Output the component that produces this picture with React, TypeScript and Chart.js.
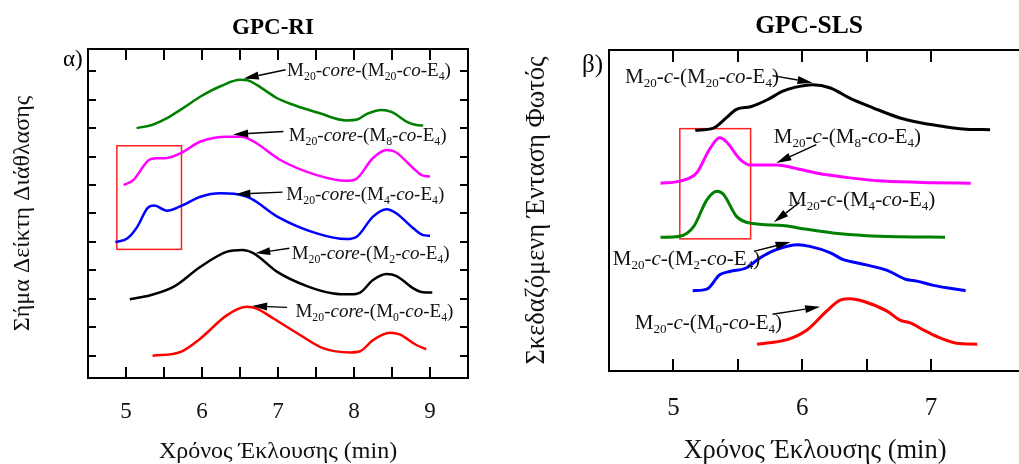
import React, { useEffect, useRef } from "react";
import { Chart, registerables } from "chart.js";

Chart.register(...registerables);

const FONT = '"Liberation Serif", "DejaVu Serif", "Times New Roman", serif';

type Pt = [number, number];

// ---------- GPC-RI panel (elution time, offset RI signal) ----------
const riM20: Pt[] = [[5.14, 8.0], [5.35, 8.12], [5.54, 8.35], [5.76, 8.72], [5.98, 9.11], [6.25, 9.48], [6.5, 9.7], [6.6, 9.68], [6.72, 9.52], [6.99, 9.05], [7.2, 8.82], [7.55, 8.52], [7.9, 8.27], [8.04, 8.3], [8.17, 8.5], [8.36, 8.64], [8.5, 8.56], [8.69, 8.23], [8.82, 8.11], [8.91, 8.09]];
const riM8: Pt[] = [[4.97, 6.0], [5.1, 6.18], [5.2, 6.55], [5.3, 6.88], [5.41, 6.94], [5.54, 6.95], [5.72, 7.12], [5.98, 7.53], [6.33, 7.7], [6.52, 7.7], [6.68, 7.53], [7.03, 6.88], [7.51, 6.35], [7.9, 6.15], [8.02, 6.2], [8.25, 6.95], [8.43, 7.23], [8.54, 7.17], [8.78, 6.59], [8.89, 6.35], [9.0, 6.3]];
const riM4: Pt[] = [[4.86, 3.99], [5.02, 4.13], [5.15, 4.54], [5.28, 5.18], [5.37, 5.28], [5.54, 5.1], [5.72, 5.26], [5.98, 5.59], [6.24, 5.71], [6.42, 5.69], [6.64, 5.53], [6.99, 4.89], [7.51, 4.3], [7.9, 4.1], [8.04, 4.19], [8.25, 4.89], [8.43, 5.15], [8.56, 5.0], [8.78, 4.48], [8.91, 4.24], [9.0, 4.22]];
const riM2: Pt[] = [[5.05, 1.99], [5.32, 2.13], [5.63, 2.43], [5.98, 3.13], [6.33, 3.66], [6.53, 3.72], [6.68, 3.6], [6.99, 2.95], [7.38, 2.45], [7.73, 2.19], [7.95, 2.16], [8.08, 2.22], [8.25, 2.66], [8.43, 2.87], [8.56, 2.8], [8.78, 2.37], [8.91, 2.23], [9.03, 2.22]];
const riM0: Pt[] = [[5.35, 0.0], [5.72, 0.14], [5.98, 0.61], [6.33, 1.43], [6.59, 1.72], [6.72, 1.66], [6.94, 1.31], [7.29, 0.73], [7.6, 0.26], [7.95, 0.12], [8.08, 0.16], [8.25, 0.55], [8.47, 0.81], [8.6, 0.75], [8.82, 0.38], [8.95, 0.23]];

// ---------- GPC-SLS panel (elution time, offset LS intensity) ----------
const slsM20: Pt[] = [[5.17, 4.0], [5.31, 4.04], [5.41, 4.23], [5.49, 4.39], [5.6, 4.44], [5.73, 4.57], [5.85, 4.73], [5.98, 4.82], [6.08, 4.85], [6.22, 4.79], [6.37, 4.6], [6.55, 4.42], [6.76, 4.23], [6.92, 4.14], [7.1, 4.07], [7.28, 4.02], [7.46, 4.01]];
const slsM8: Pt[] = [[4.9, 3.01], [5.05, 3.05], [5.18, 3.2], [5.28, 3.64], [5.36, 3.86], [5.41, 3.79], [5.52, 3.45], [5.6, 3.35], [5.8, 3.35], [5.91, 3.31], [6.11, 3.2], [6.37, 3.11], [6.63, 3.05], [7.02, 3.02], [7.31, 3.01]];
const slsM4: Pt[] = [[4.9, 2.0], [5.05, 2.02], [5.16, 2.21], [5.26, 2.7], [5.34, 2.86], [5.39, 2.8], [5.49, 2.39], [5.6, 2.26], [5.85, 2.22], [5.98, 2.17], [6.24, 2.08], [6.5, 2.03], [6.76, 2.01], [7.11, 2.0]];
const slsM2: Pt[] = [[5.15, 1.0], [5.26, 1.03], [5.36, 1.3], [5.44, 1.36], [5.57, 1.43], [5.67, 1.61], [5.8, 1.77], [5.97, 1.86], [6.06, 1.83], [6.22, 1.71], [6.32, 1.58], [6.45, 1.51], [6.66, 1.38], [6.81, 1.21], [6.89, 1.18], [7.02, 1.1], [7.27, 1.0]];
const slsM0: Pt[] = [[5.65, 0.0], [5.89, 0.09], [6.04, 0.27], [6.19, 0.62], [6.3, 0.83], [6.37, 0.85], [6.48, 0.8], [6.66, 0.62], [6.76, 0.45], [6.84, 0.4], [6.94, 0.27], [7.05, 0.14], [7.2, 0.02], [7.36, 0.0]];

// arm-composition subscripts for the labels
const armSubs = ["20", "8", "4", "2", "0"];

// tick labels
const riTickLabels = ["5", "6", "7", "8", "9"];
const slsTickLabels = ["5", "6", "7"];

// annotation anchors (data coordinates)
const riLabelAt: Pt[] = [[7.12, 10.05], [7.14, 7.76], [7.11, 5.69], [7.18, 3.61], [7.23, 1.57]];
const riArrowFrom: Pt[] = [[7.1, 10.05], [7.07, 7.88], [7.06, 5.75], [7.15, 3.78], [7.12, 1.7]];
const riArrowTo: Pt[] = [[6.55, 9.74], [6.41, 7.78], [6.44, 5.68], [6.7, 3.6], [6.66, 1.75]];
const riBox: Pt[] = [[4.88, 7.38], [5.73, 3.74]];

const slsLabelAt: Pt[] = [[4.625, 5.01], [5.78, 3.89], [5.89, 2.72], [4.53, 1.62], [4.7, 0.42]];
const slsArrowFrom: Pt[] = [[5.77, 5.02], [6.11, 3.73], [5.98, 2.65], [5.63, 1.74], [5.77, 0.56]];
const slsArrowTo: Pt[] = [[6.08, 4.89], [5.8, 3.39], [5.78, 2.28], [5.91, 1.91], [6.14, 0.7]];
const slsBox: Pt[] = [[5.05, 4.03], [5.6, 1.97]];

type Seg = { t: string; sub?: boolean; it?: boolean };

function labelSegs(core: string, sub: string): Seg[] {
  return [
    { t: "M" }, { t: "20", sub: true }, { t: "-" }, { t: core, it: true }, { t: "-(M" },
    { t: sub, sub: true }, { t: "-" }, { t: "co", it: true }, { t: "-E" }, { t: "4", sub: true }, { t: ")" },
  ];
}

interface PanelSpec {
  series: { pts: Pt[]; color: string }[];
  lw: number;
  xMin: number; xMax: number; yMin: number; yMax: number;
  tickLabels: string[];
  tickSize: number; tickPad: number;
  xTitle: string; yTitle: string; titleSize: number; xTitlePad: number; yTitlePad: number;
  padTop: number; padRight: number; yWidth: number; xHeight: number;
  tickLenX: number; tickLenY: number;
  heading: string; headingSize: number; headingX: number; headingY: number;
  tag: string; tagSize: number; tagX: number; tagY: number;
  core: string; annSize: number;
  labelAt: Pt[]; arrowFrom: Pt[]; arrowTo: Pt[]; box: Pt[];
}

function drawRich(ctx: CanvasRenderingContext2D, segs: Seg[], x: number, yMid: number, size: number) {
  const base = yMid + size * 0.33;
  let cx = x;
  ctx.textAlign = "left";
  ctx.textBaseline = "alphabetic";
  for (const s of segs) {
    const fs = s.sub ? size * 0.62 : size;
    ctx.font = `${s.it ? "italic " : ""}${fs}px ${FONT}`;
    ctx.fillText(s.t, cx, s.sub ? base + size * 0.2 : base);
    cx += ctx.measureText(s.t).width;
  }
}

function arrow(ctx: CanvasRenderingContext2D, x0: number, y0: number, x1: number, y1: number) {
  const ang = Math.atan2(y1 - y0, x1 - x0);
  const L = 15, W = 4;
  const bx = x1 - L * Math.cos(ang), by = y1 - L * Math.sin(ang);
  ctx.beginPath();
  ctx.moveTo(x0, y0);
  ctx.lineTo(bx, by);
  ctx.lineWidth = 1.4;
  ctx.strokeStyle = "#000";
  ctx.stroke();
  ctx.beginPath();
  ctx.moveTo(x1, y1);
  ctx.lineTo(bx + W * Math.sin(ang), by - W * Math.cos(ang));
  ctx.lineTo(bx - W * Math.sin(ang), by + W * Math.cos(ang));
  ctx.closePath();
  ctx.fillStyle = "#000";
  ctx.fill();
}

function makePlugin(p: PanelSpec) {
  return {
    id: "panelDecor",
    beforeDatasetsDraw(chart: any) {
      const { ctx, scales } = chart;
      const xs = scales.x, ys = scales.y;
      ctx.save();
      // red highlight box
      const bx0 = xs.getPixelForValue(p.box[0][0]), by0 = ys.getPixelForValue(p.box[0][1]);
      const bx1 = xs.getPixelForValue(p.box[1][0]), by1 = ys.getPixelForValue(p.box[1][1]);
      ctx.strokeStyle = "#ff2020";
      ctx.lineWidth = 1.5;
      ctx.strokeRect(bx0, by0, bx1 - bx0, by1 - by0);
      ctx.restore();
    },
    afterDatasetsDraw(chart: any) {
      const { ctx, chartArea: a, scales } = chart;
      const xs = scales.x, ys = scales.y;
      ctx.save();
      // frame
      ctx.strokeStyle = "#000";
      ctx.lineWidth = 2;
      ctx.strokeRect(a.left, a.top, a.right - a.left, a.bottom - a.top);
      // inward ticks
      ctx.beginPath();
      for (const t of xs.ticks) {
        const v = t.value;
        if (Math.abs(v * 2 - Math.round(v * 2)) > 1e-6) continue;
        if (v <= p.xMin + 1e-6 || v >= p.xMax - 1e-6) continue;
        const px = Math.round(xs.getPixelForValue(v));
        ctx.moveTo(px, a.bottom); ctx.lineTo(px, a.bottom - p.tickLenX);
        ctx.moveTo(px, a.top); ctx.lineTo(px, a.top + p.tickLenX);
      }
      for (const t of ys.ticks) {
        const v = t.value;
        if (Math.abs(v - Math.round(v)) > 1e-6) continue;
        if (v <= p.yMin + 1e-6 || v >= p.yMax - 1e-6) continue;
        const py = Math.round(ys.getPixelForValue(v));
        ctx.moveTo(a.left, py); ctx.lineTo(a.left + p.tickLenY, py);
        ctx.moveTo(a.right, py); ctx.lineTo(a.right - p.tickLenY, py);
      }
      ctx.lineWidth = 2;
      ctx.stroke();
      // annotations
      p.labelAt.forEach((lp, i) => {
        const f = p.arrowFrom[i], to = p.arrowTo[i];
        arrow(ctx, xs.getPixelForValue(f[0]), ys.getPixelForValue(f[1]), xs.getPixelForValue(to[0]), ys.getPixelForValue(to[1]));
        ctx.fillStyle = "#111";
        drawRich(ctx, labelSegs(p.core, armSubs[i]), xs.getPixelForValue(lp[0]), ys.getPixelForValue(lp[1]), p.annSize);
      });
      // heading and panel tag
      ctx.fillStyle = "#000";
      ctx.textAlign = "center";
      ctx.textBaseline = "middle";
      ctx.font = `bold ${p.headingSize}px ${FONT}`;
      ctx.fillText(p.heading, p.headingX, p.headingY);
      ctx.textAlign = "left";
      ctx.font = `${p.tagSize}px ${FONT}`;
      ctx.fillText(p.tag, p.tagX, p.tagY);
      ctx.restore();
    },
  };
}

function makeConfig(p: PanelSpec): any {
  return {
    type: "line",
    data: {
      datasets: p.series.map((s) => ({
        data: s.pts.map(([x, y]) => ({ x, y })),
        borderColor: s.color,
        borderWidth: p.lw,
        pointRadius: 0,
        fill: false,
        cubicInterpolationMode: "monotone",
      })),
    },
    options: {
      animation: false,
      responsive: false,
      devicePixelRatio: 1,
      layout: { padding: { top: p.padTop, right: p.padRight, left: 0, bottom: 0 } },
      plugins: { legend: { display: false }, tooltip: { enabled: false }, title: { display: false } },
      scales: {
        x: {
          type: "linear",
          position: "bottom",
          min: p.xMin,
          max: p.xMax,
          grid: { display: false, drawTicks: false },
          border: { display: false },
          ticks: {
            stepSize: 0.5,
            autoSkip: false,
            maxRotation: 0,
            padding: p.tickPad,
            color: "#111",
            font: { family: FONT, size: p.tickSize },
            callback: (v: number) => {
              const s = String(v);
              return p.tickLabels.includes(s) ? s : "";
            },
          },
          title: {
            display: true,
            text: p.xTitle,
            color: "#111",
            font: { family: FONT, size: p.titleSize, lineHeight: 1 },
            padding: { top: 0, bottom: p.xTitlePad },
          },
          afterFit: (s: any) => { s.height = p.xHeight; },
        },
        y: {
          type: "linear",
          position: "left",
          min: p.yMin,
          max: p.yMax,
          grid: { display: false, drawTicks: false },
          border: { display: false },
          ticks: { display: false, stepSize: 1 },
          title: {
            display: true,
            text: p.yTitle,
            color: "#111",
            font: { family: FONT, size: p.titleSize, lineHeight: 1 },
            padding: { top: p.yTitlePad, bottom: 0 },
          },
          afterFit: (s: any) => { s.width = p.yWidth; },
        },
      },
    },
    plugins: [makePlugin(p)],
  };
}

const riPanel: PanelSpec = {
  series: [
    { pts: riM20, color: "#008000" },
    { pts: riM8, color: "#ff00ff" },
    { pts: riM4, color: "#0000ff" },
    { pts: riM2, color: "#000000" },
    { pts: riM0, color: "#ff0000" },
  ],
  lw: 2.5,
  xMin: 4.5, xMax: 9.5, yMin: -0.78, yMax: 10.78,
  tickLabels: riTickLabels,
  tickSize: 23, tickPad: 20,
  xTitle: "Χρόνος Έκλουσης (min)", yTitle: "Σήμα Δείκτη Διάθλασης", titleSize: 24, xTitlePad: 0, yTitlePad: 11,
  padTop: 49, padRight: 32, yWidth: 88, xHeight: 86,
  tickLenX: 11, tickLenY: 8,
  heading: "GPC-RI", headingSize: 23, headingX: 273, headingY: 28,
  tag: "α)", tagSize: 23, tagX: 63, tagY: 60,
  core: "core", annSize: 19,
  labelAt: riLabelAt, arrowFrom: riArrowFrom, arrowTo: riArrowTo, box: riBox,
};

const slsPanel: PanelSpec = {
  series: [
    { pts: slsM20, color: "#000000" },
    { pts: slsM8, color: "#ff00ff" },
    { pts: slsM4, color: "#008000" },
    { pts: slsM2, color: "#0000ff" },
    { pts: slsM0, color: "#ff0000" },
  ],
  lw: 3,
  xMin: 4.5, xMax: 7.7, yMin: -0.5, yMax: 5.5,
  tickLabels: slsTickLabels,
  tickSize: 25, tickPad: 22,
  xTitle: "Χρόνος Έκλουσης (min)", yTitle: "Σκεδαζόμενη Ένταση Φωτός", titleSize: 26.5, xTitlePad: 0, yTitlePad: 23.5,
  padTop: 50, padRight: 24, yWidth: 109, xHeight: 93,
  tickLenX: 12, tickLenY: 8,
  heading: "GPC-SLS", headingSize: 25.5, headingX: 309, headingY: 26,
  tag: "β)", tagSize: 25, tagX: 82, tagY: 65,
  core: "c", annSize: 21,
  labelAt: slsLabelAt, arrowFrom: slsArrowFrom, arrowTo: slsArrowTo, box: slsBox,
};

function Panel({ spec, left, width }: { spec: PanelSpec; left: number; width: number }) {
  const ref = useRef<HTMLCanvasElement | null>(null);
  useEffect(() => {
    if (!ref.current) return;
    const chart = new Chart(ref.current, makeConfig(spec));
    return () => chart.destroy();
  }, [spec]);
  return (
    <canvas
      ref={ref}
      width={width}
      height={464}
      style={{ position: "absolute", left, top: 0, width, height: 464, display: "block" }}
    />
  );
}

export default function App() {
  return (
    <div
      style={{
        position: "fixed",
        left: 0,
        top: 0,
        width: 1019,
        height: 464,
        overflow: "hidden",
        background: "#fff",
      }}
    >
      <Panel spec={riPanel} left={0} width={500} />
      <Panel spec={slsPanel} left={500} width={545} />
    </div>
  );
}
